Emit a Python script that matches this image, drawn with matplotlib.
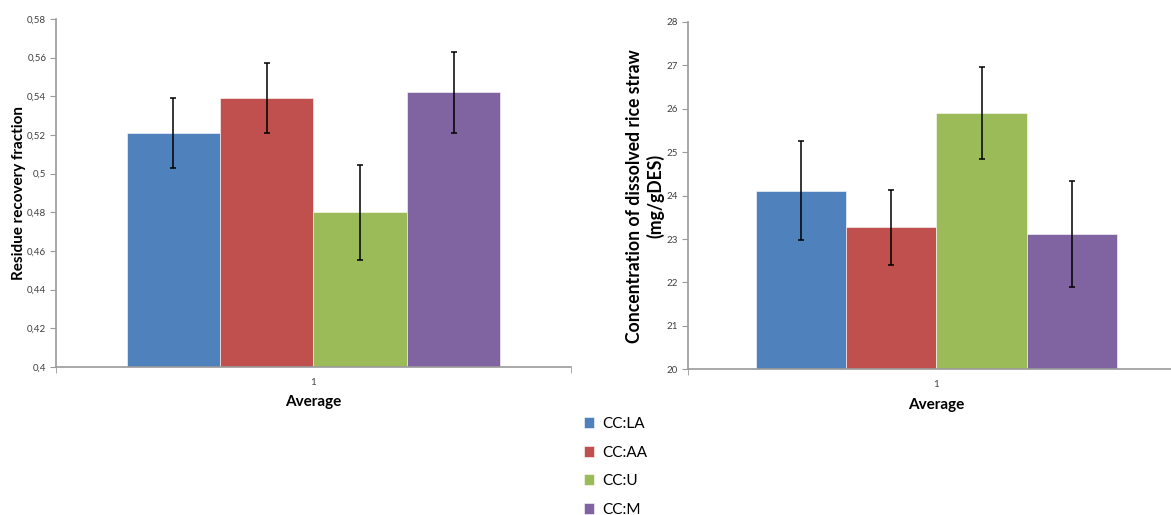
import matplotlib
matplotlib.use("Agg")
import matplotlib.pyplot as plt
from matplotlib.ticker import FuncFormatter, MultipleLocator

# Data
series = ["CC:LA", "CC:AA", "CC:U", "CC:M"]
colors = ["#4F81BD", "#C0504D", "#9BBB59", "#8064A2"]

recovery_mean = [0.521, 0.539, 0.480, 0.542]
recovery_err = [0.018, 0.018, 0.0245, 0.021]

conc_mean = [24.11, 23.27, 25.91, 23.11]
conc_err = [1.14, 0.87, 1.06, 1.22]

category = [1]
category_labels = ["1"]

plt.rcParams["font.family"] = ["Lato", "DejaVu Sans"]

fig = plt.figure(figsize=(11.71, 5.15), dpi=100)
ax1 = fig.add_axes([0.0478, 0.2874, 0.4398, 0.6757])
ax2 = fig.add_axes([0.5875, 0.2829, 0.4244, 0.6744])

axis_grey = "#9A9A9A"
text_dark = "#404040"
bar_w = 0.1815


def draw_panel(ax, means, errs, ylim, ystep, fmt, ylabel, ysize):
    handles = []
    for i, (m, e, c, name) in enumerate(zip(means, errs, colors, series)):
        x = category[0] + (i - 1.5) * bar_w
        b = ax.bar(x, m - ylim[0], width=bar_w, bottom=ylim[0], color=c,
                   edgecolor="white", linewidth=0.4, label=name, zorder=2)
        ax.errorbar(x, m, yerr=e, fmt="none", ecolor="black",
                    elinewidth=1.1, capsize=2.5, capthick=1.1, zorder=3)
        handles.append(b)
    ax.set_xlim(0.5, 1.5)
    ax.set_ylim(*ylim)
    ax.yaxis.set_major_locator(MultipleLocator(ystep))
    ax.yaxis.set_major_formatter(FuncFormatter(fmt))
    ax.set_xticks(category)
    ax.set_xticklabels(category_labels)
    ax.set_xticks([0.5, 1.5], minor=True)
    ax.tick_params(axis="x", which="major", length=0, labelsize=7,
                   colors=text_dark, pad=8)
    ax.tick_params(axis="x", which="minor", length=4, color=axis_grey,
                   direction="out")
    ax.tick_params(axis="y", length=4, color=axis_grey, direction="out",
                   labelsize=7, labelcolor=text_dark, pad=3)
    for side in ("top", "right"):
        ax.spines[side].set_visible(False)
    for side in ("left", "bottom"):
        ax.spines[side].set_color(axis_grey)
        ax.spines[side].set_linewidth(1.2)
    ax.set_xlabel("Average", fontsize=11, fontweight="bold", labelpad=6)
    ax.set_ylabel(ylabel, fontsize=ysize, fontweight="bold", linespacing=1.25)
    return handles


def comma_fmt(v, _):
    s = f"{v:.2f}".rstrip("0").rstrip(".")
    return s.replace(".", ",")


def int_fmt(v, _):
    return f"{v:.0f}"


handles = draw_panel(ax1, recovery_mean, recovery_err, (0.4, 0.58), 0.02,
                     comma_fmt, "Residue recovery fraction", 11)
ax1.yaxis.set_label_coords(-0.058, 0.5)

draw_panel(ax2, conc_mean, conc_err, (20, 28), 1, int_fmt,
           "Concentration of dissolved rice straw\n(mg/gDES)", 12.7)
ax2.yaxis.set_label_coords(-0.047, 0.5)

fig.legend(handles=handles, labels=series, loc="upper left",
           bbox_to_anchor=(0.492, 0.205), frameon=False, fontsize=11,
           handlelength=0.7, handleheight=0.7, handletextpad=0.5,
           labelspacing=0.95, borderpad=0)

fig.savefig("out.png", dpi=100)
